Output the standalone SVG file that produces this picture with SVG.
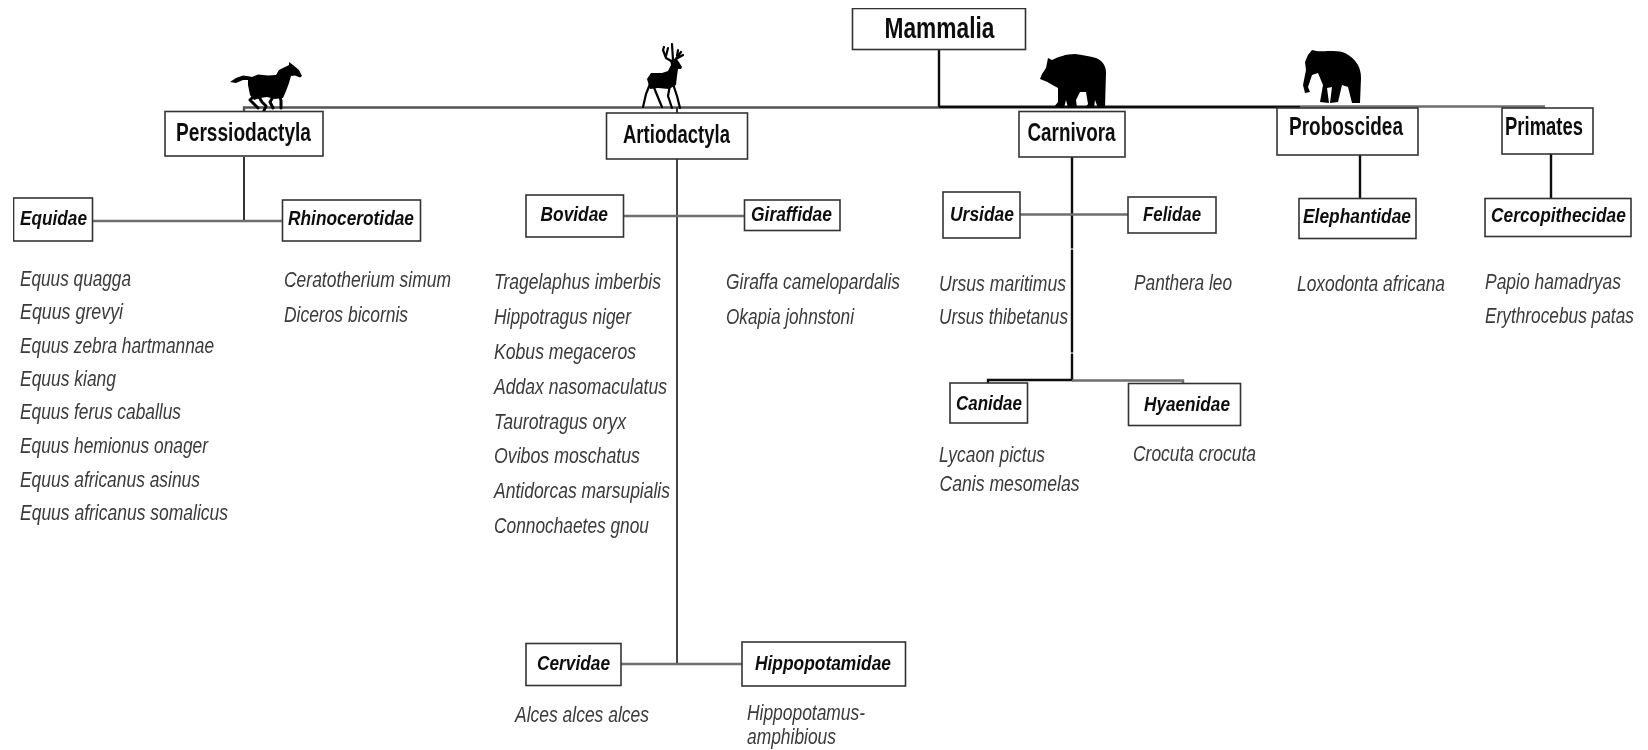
<svg xmlns="http://www.w3.org/2000/svg" width="1648" height="750" viewBox="0 0 1648 750">
<style>
text{font-family:"Liberation Sans",Arial,sans-serif}
.box{fill:#fff;stroke:#333;stroke-width:1.6}
.ord{font-weight:700;font-size:25px;fill:#111}
.fam{font-weight:700;font-style:italic;font-size:21px;fill:#111}
.sp{font-style:italic;font-size:21.500px;fill:#3a3a3a}
.dk{stroke:#111;stroke-width:2.400;fill:none}
.md{stroke:#333;stroke-width:2;fill:none}
.gr{stroke:#6e6e6e;stroke-width:2.400;fill:none}
.sil{fill:#000}
.leg{fill:none;stroke:#000;stroke-width:3;stroke-linecap:round;stroke-linejoin:round}
</style>
<defs><filter id="soft" x="0" y="0" width="100%" height="100%"><feGaussianBlur stdDeviation="0.45"/></filter></defs>
<rect width="1648" height="750" fill="#fff"/>
<g filter="url(#soft)">
<g id="connectors">
<path class="gr" d="M244 112V107.500H939" style="stroke:#555"/>
<path class="dk" d="M939 49V107"/>
<path class="dk" d="M939 107H1300" style="stroke-width:2.800"/>
<path class="gr" d="M1300 106.500H1545"/>
<path class="md" d="M677 107V114"/>
<path class="dk" d="M1072 157V248.500M1072 249.500V352.500M1072 353.500V380H988V384"/>
<path class="gr" d="M1072 380.500H1183V384"/>
<path class="md" d="M244 157V221"/>
<path class="gr" d="M92 221H282"/>
<path class="md" d="M677 159V664" style="stroke:#444"/>
<path class="gr" d="M623 216H744"/>
<path class="gr" d="M621 664H742"/>
<path class="gr" d="M1020 214.500H1128"/>
<path class="dk" d="M1360 155V198"/>
<path class="dk" d="M1551 154V199"/>
</g>
<g id="icon-horse"><path class="sil" d="M230 82L236 78L243 75.500L250 76.500L252 77L258 74.500L268 75.500L276 75L279 70L285 67L289 65L289 62L293 65L299 70L302 76L300 77.500L295 75.500L291 76L289 83L286 91L283 98L275 99L267 97L260 98L254 100L250 95L248 85L248 80L243 80L236 83Z"/><path class="leg" d="M253 97L250 100L254 104L258 108M259 97L262 102L266 106L262 115M280 96L281 101L281 108M273 97L270 102L273 108"/></g>
<g id="icon-deer"><path class="sil" d="M647 79L651 73L662 73L668 71L671 65L670 60L677 59L682 67L681 69L678 69L677 76L676 85L669 89L658 88L650 89Z"/><path class="leg" style="stroke-width:2.200" d="M650 84L646 94L643 107M653 85L657 95L662 107M670 85L668 96L672 108M673 84L677 96L680 108M672 44L673 60M673 62L666 58L663 50L664 47M666 56L668 48M675 60L681 52M678 50L677 56M676 59L683 55"/></g>
<g id="icon-bear"><path class="sil" d="M1048 58L1052 60C1058 57 1066 54 1075 54C1082 55 1090 56 1096 58C1102 60 1106 66 1106 72L1105 108L1098 108L1095 100L1094 108L1085 108L1088 104L1086 92L1080 92L1076 100L1077 108L1068 108L1066 100L1064 108L1054 107L1058 102L1058 88C1052 85 1048 82 1045 81L1040 79L1042 74L1046 68Z"/></g>
<g id="icon-elephant"><path class="sil" d="M1312 50C1318 52 1323 51 1328 51C1335 51 1340 51 1345 53C1351 56 1355 60 1358 65C1360 69 1361 73 1361 78L1360 103L1352 103L1348 87L1342 85L1338 102L1330 103L1332 87L1327 88L1329 103L1320 102L1323 85L1318 73L1312 75L1308 87L1310 92L1305 93L1303 85L1306 70L1305 62L1308 55Z"/></g>
<g id="mammalia"><rect class="box" x="852.500" y="8.500" width="173" height="41"/><text x="884.500" y="37.500" style="font-weight:700;font-size:29px;fill:#111" textLength="110" lengthAdjust="spacingAndGlyphs">Mammalia</text></g>
<g id="perissodactyla"><rect class="box" x="165" y="111.500" width="158" height="44.500"/><text class="ord" x="176" y="141" textLength="135" lengthAdjust="spacingAndGlyphs">Perssiodactyla</text></g>
<g id="artiodactyla"><rect class="box" x="606.500" y="113" width="141" height="46"/><text class="ord" x="623" y="143" textLength="107" lengthAdjust="spacingAndGlyphs">Artiodactyla</text></g>
<g id="carnivora"><rect class="box" x="1019" y="111.500" width="106" height="45.500"/><text class="ord" x="1027.500" y="141" textLength="88" lengthAdjust="spacingAndGlyphs">Carnivora</text></g>
<g id="proboscidea"><rect class="box" x="1277" y="108" width="141" height="47"/><text class="ord" x="1289" y="135" textLength="114" lengthAdjust="spacingAndGlyphs">Proboscidea</text></g>
<g id="primates"><rect class="box" x="1502" y="108" width="91" height="46"/><text class="ord" x="1505" y="135" textLength="78" lengthAdjust="spacingAndGlyphs">Primates</text></g>
<g id="equidae"><rect class="box" x="13.500" y="198" width="79" height="43"/><text class="fam" x="20" y="225" textLength="67" lengthAdjust="spacingAndGlyphs">Equidae</text>
<text class="sp" x="20" y="286" textLength="111" lengthAdjust="spacingAndGlyphs">Equus quagga</text><text class="sp" x="20" y="319" textLength="103" lengthAdjust="spacingAndGlyphs">Equus grevyi</text><text class="sp" x="20" y="352.500" textLength="194" lengthAdjust="spacingAndGlyphs">Equus zebra hartmannae</text><text class="sp" x="20" y="385.500" textLength="96" lengthAdjust="spacingAndGlyphs">Equus kiang</text><text class="sp" x="20" y="419" textLength="161" lengthAdjust="spacingAndGlyphs">Equus ferus caballus</text><text class="sp" x="20" y="453" textLength="188" lengthAdjust="spacingAndGlyphs">Equus hemionus onager</text><text class="sp" x="20" y="487" textLength="180" lengthAdjust="spacingAndGlyphs">Equus africanus asinus</text><text class="sp" x="20" y="520" textLength="208" lengthAdjust="spacingAndGlyphs">Equus africanus somalicus</text></g>
<g id="rhinocerotidae"><rect class="box" x="282.500" y="200" width="138" height="41"/><text class="fam" x="288" y="225" textLength="126" lengthAdjust="spacingAndGlyphs">Rhinocerotidae</text>
<text class="sp" x="284" y="287" textLength="167" lengthAdjust="spacingAndGlyphs">Ceratotherium simum</text><text class="sp" x="284" y="322" textLength="124" lengthAdjust="spacingAndGlyphs">Diceros bicornis</text></g>
<g id="bovidae"><rect class="box" x="526" y="195" width="97.500" height="42"/><text class="fam" x="540.500" y="221" textLength="67.500" lengthAdjust="spacingAndGlyphs">Bovidae</text>
<text class="sp" x="494" y="289" textLength="167" lengthAdjust="spacingAndGlyphs">Tragelaphus imberbis</text><text class="sp" x="494" y="324" textLength="137" lengthAdjust="spacingAndGlyphs">Hippotragus niger</text><text class="sp" x="494" y="359" textLength="142" lengthAdjust="spacingAndGlyphs">Kobus megaceros</text><text class="sp" x="494" y="394" textLength="173" lengthAdjust="spacingAndGlyphs">Addax nasomaculatus</text><text class="sp" x="494" y="429" textLength="132" lengthAdjust="spacingAndGlyphs">Taurotragus oryx</text><text class="sp" x="494" y="463" textLength="146" lengthAdjust="spacingAndGlyphs">Ovibos moschatus</text><text class="sp" x="494" y="498" textLength="176" lengthAdjust="spacingAndGlyphs">Antidorcas marsupialis</text><text class="sp" x="494" y="533" textLength="155" lengthAdjust="spacingAndGlyphs">Connochaetes gnou</text></g>
<g id="giraffidae"><rect class="box" x="744.500" y="200" width="95.500" height="30.500"/><text class="fam" x="751" y="221" textLength="81" lengthAdjust="spacingAndGlyphs">Giraffidae</text>
<text class="sp" x="726" y="289" textLength="174" lengthAdjust="spacingAndGlyphs">Giraffa camelopardalis</text><text class="sp" x="726" y="324" textLength="128" lengthAdjust="spacingAndGlyphs">Okapia johnstoni</text></g>
<g id="cervidae"><rect class="box" x="526" y="643.500" width="95" height="42"/><text class="fam" x="537" y="670" textLength="73" lengthAdjust="spacingAndGlyphs">Cervidae</text>
<text class="sp" x="515" y="722" textLength="134" lengthAdjust="spacingAndGlyphs">Alces alces alces</text></g>
<g id="hippopotamidae"><rect class="box" x="742" y="642" width="163.500" height="44"/><text class="fam" x="755" y="670" textLength="136" lengthAdjust="spacingAndGlyphs">Hippopotamidae</text>
<text class="sp" x="747" y="720" textLength="118" lengthAdjust="spacingAndGlyphs">Hippopotamus-</text><text class="sp" x="747" y="744" textLength="89" lengthAdjust="spacingAndGlyphs">amphibious</text></g>
<g id="ursidae"><rect class="box" x="943" y="192" width="77" height="46"/><text class="fam" x="950" y="221" textLength="64" lengthAdjust="spacingAndGlyphs">Ursidae</text>
<text class="sp" x="939" y="291" textLength="127" lengthAdjust="spacingAndGlyphs">Ursus maritimus</text><text class="sp" x="939" y="324" textLength="129" lengthAdjust="spacingAndGlyphs">Ursus thibetanus</text></g>
<g id="felidae"><rect class="box" x="1128" y="197" width="88" height="36"/><text class="fam" x="1143" y="221" textLength="58" lengthAdjust="spacingAndGlyphs">Felidae</text>
<text class="sp" x="1134" y="289.500" textLength="98" lengthAdjust="spacingAndGlyphs">Panthera leo</text></g>
<g id="canidae"><rect class="box" x="950" y="383" width="77.500" height="40"/><text class="fam" x="956" y="410" textLength="66" lengthAdjust="spacingAndGlyphs">Canidae</text>
<text class="sp" x="939" y="462" textLength="106" lengthAdjust="spacingAndGlyphs">Lycaon pictus</text><text class="sp" x="939.500" y="491" textLength="140" lengthAdjust="spacingAndGlyphs">Canis mesomelas</text></g>
<g id="hyaenidae"><rect class="box" x="1128.500" y="383.500" width="112" height="42"/><text class="fam" x="1144" y="411" textLength="86" lengthAdjust="spacingAndGlyphs">Hyaenidae</text>
<text class="sp" x="1133" y="461" textLength="123" lengthAdjust="spacingAndGlyphs">Crocuta crocuta</text></g>
<g id="elephantidae"><rect class="box" x="1299" y="198.500" width="117" height="40"/><text class="fam" x="1303" y="223" textLength="108" lengthAdjust="spacingAndGlyphs">Elephantidae</text>
<text class="sp" x="1297" y="291" textLength="148" lengthAdjust="spacingAndGlyphs">Loxodonta africana</text></g>
<g id="cercopithecidae"><rect class="box" x="1485" y="198.500" width="146" height="38"/><text class="fam" transform="translate(1491 222) scale(.826 1)">Cercopithecidae</text>
<text class="sp" transform="translate(1485 289) scale(.8125 1)">Papio hamadryas</text><text class="sp" transform="translate(1485 322.500) scale(.804 1)">Erythrocebus patas</text></g>
</g>
</svg>
